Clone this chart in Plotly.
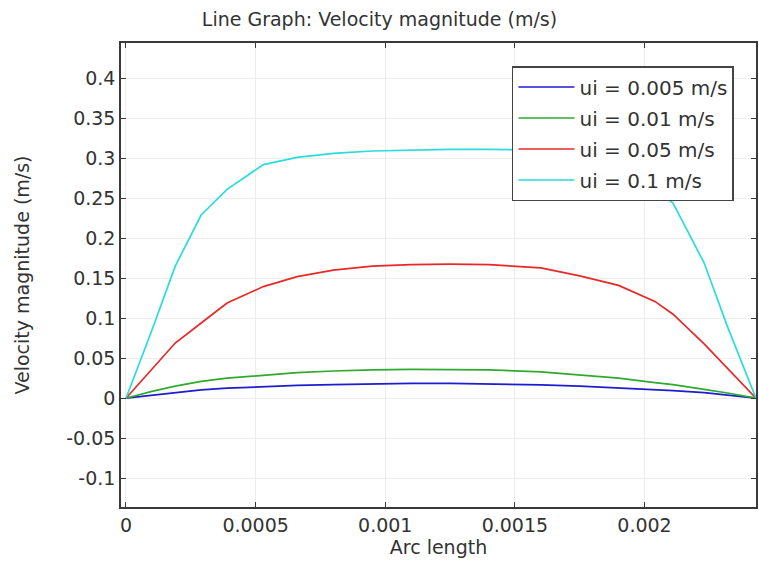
import plotly.graph_objects as go

# Arc length positions (m)
arc_length = [0, 0.0001, 0.00019, 0.00029, 0.00039, 0.00053, 0.00066, 0.0008, 0.00095, 0.0011,
              0.00125, 0.0014, 0.0016, 0.00175, 0.0019, 0.00204, 0.00211, 0.00223, 0.00232, 0.00243]

# Velocity magnitude (m/s) for each inlet velocity
vel_0005 = [0, 0.0035, 0.007, 0.0104, 0.0125, 0.0145, 0.016, 0.017, 0.018, 0.0185,
            0.0185, 0.018, 0.0166, 0.015, 0.013, 0.011, 0.0095, 0.007, 0.004, 0]
vel_001 = [0, 0.0085, 0.015, 0.021, 0.025, 0.029, 0.032, 0.034, 0.0355, 0.036,
           0.036, 0.0355, 0.033, 0.029, 0.025, 0.0195, 0.017, 0.011, 0.0065, 0]
vel_005 = [0, 0.036, 0.069, 0.094, 0.119, 0.1395, 0.152, 0.160, 0.165, 0.167,
           0.1675, 0.167, 0.163, 0.153, 0.141, 0.121, 0.105, 0.068, 0.038, 0]
vel_01 = [0, 0.085, 0.165, 0.229, 0.261, 0.292, 0.301, 0.306, 0.309, 0.31,
          0.311, 0.311, 0.31, 0.303, 0.29, 0.262, 0.244, 0.169, 0.0895, 0]

series_names = ["ui = 0.005 m/s", "ui = 0.01 m/s", "ui = 0.05 m/s", "ui = 0.1 m/s"]
series_values = [vel_0005, vel_001, vel_005, vel_01]
series_colors = ["#1c1cd0", "#2eaa2e", "#e82828", "#2adcdc"]

x_tickvals = [0, 0.0005, 0.001, 0.0015, 0.002]
x_ticktext = ["0", "0.0005", "0.001", "0.0015", "0.002"]
y_tickvals = [-0.1, -0.05, 0, 0.05, 0.1, 0.15, 0.2, 0.25, 0.3, 0.35, 0.4]
y_ticktext = ["-0.1", "-0.05", "0", "0.05", "0.1", "0.15", "0.2", "0.25", "0.3", "0.35", "0.4"]

FONT = "DejaVu Sans"
FS = 19
TXT = "#333333"
fig = go.Figure()
for i, (name, vals, col) in enumerate(zip(series_names, series_values, series_colors)):
    fig.add_trace(go.Scatter(x=arc_length, y=vals, mode="lines", name=name,
                             legendgroup=f"g{i}",
                             line=dict(color=col, width=1.7)))

axis_common = dict(showline=True, linecolor="#3a3a3a", linewidth=1.5, mirror="allticks",
                   ticks="inside", ticklen=5, tickcolor="#3a3a3a", tickwidth=1,
                   showgrid=True, gridcolor="#ededed", gridwidth=1, zeroline=False,
                   tickfont=dict(family=FONT, size=FS, color=TXT))

fig.update_layout(
    width=759, height=562,
    margin=dict(l=121, r=1, t=43, b=55),
    paper_bgcolor="white", plot_bgcolor="white",
    font=dict(family=FONT, size=FS, color=TXT),
    title=dict(text="Line Graph: Velocity magnitude (m/s)", x=0.5, xref="container",
               xanchor="center", y=0.965, yref="container", yanchor="middle",
               font=dict(family=FONT, size=FS, color=TXT)),
    xaxis=dict(range=[-0.0000192, 0.00243], tickvals=x_tickvals, ticktext=x_ticktext,
               title=dict(text="Arc length", standoff=0, font=dict(family=FONT, size=FS, color=TXT)),
               **axis_common),
    yaxis=dict(range=[-0.136, 0.444], tickvals=y_tickvals, ticktext=y_ticktext,
               title=dict(text="Velocity magnitude (m/s)", standoff=32,
                          font=dict(family=FONT, size=FS, color=TXT)),
               **axis_common),
    legend=dict(x=0.6157, y=0.9504, xanchor="left", yanchor="top",
                bgcolor="white", bordercolor="#444444", borderwidth=1.5,
                font=dict(family=FONT, size=20, color=TXT),
                tracegroupgap=2, itemwidth=56),
    showlegend=True,
)

fig.write_html("out.html", config={"displayModeBar": False},
               post_script="document.body.style.margin='0';document.body.style.overflow='hidden';")
